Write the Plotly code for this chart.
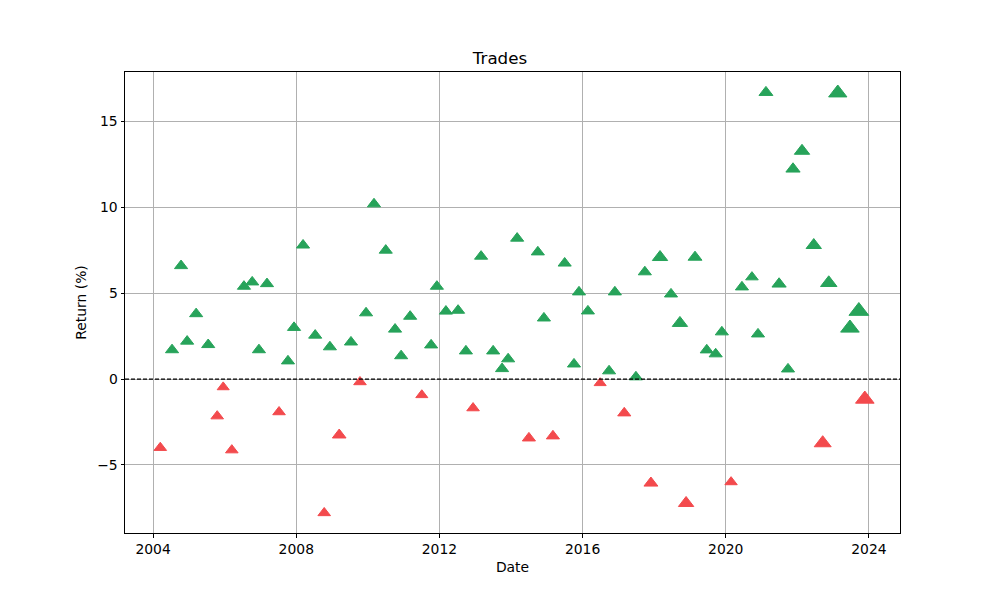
import plotly.graph_objects as go

# Winning trades
win_dates = [
    "2004-07-12", "2004-10-12", "2004-12-13", "2005-03-15", "2005-07-16",
    "2006-07-16", "2006-10-08", "2006-12-16", "2007-03-08", "2007-10-08",
    "2007-12-09", "2008-03-10", "2008-07-12", "2008-12-09", "2009-07-12",
    "2009-12-13", "2010-03-04", "2010-07-02", "2010-10-05", "2010-12-06",
    "2011-03-08", "2011-10-08", "2011-12-06", "2012-03-07", "2012-07-09",
    "2012-09-27", "2013-03-01", "2013-07-02", "2013-10-01", "2013-12-02",
    "2014-03-04", "2014-10-01", "2014-12-02", "2015-07-02", "2015-10-05",
    "2015-11-25", "2016-02-24", "2016-09-27", "2016-11-25", "2017-06-28",
    "2017-09-27", "2018-03-01", "2018-06-21", "2018-09-20", "2019-02-21",
    "2019-06-21", "2019-09-20", "2019-11-22", "2020-06-14", "2020-09-24",
    "2020-11-25", "2021-02-14", "2021-06-28", "2021-09-27", "2021-11-17",
    "2022-02-17", "2022-06-17", "2022-11-17", "2023-02-17", "2023-06-21",
    "2023-09-20",
]
win_returns = [
    1.7, 6.6, 2.2, 3.8, 2.0,
    5.4, 5.65, 1.7, 5.55, 1.05,
    3.0, 7.8, 2.55, 1.87, 2.15,
    3.85, 10.2, 7.5, 2.9, 1.35,
    3.65, 1.98, 5.4, 3.95, 4.0,
    1.63, 7.15, 1.63, 0.6, 1.17,
    8.2, 7.4, 3.55, 6.75, 0.87,
    5.07, 3.96, 0.47, 5.07, 0.12,
    6.24, 7.1, 4.95, 3.26, 7.1,
    1.69, 1.46, 2.74, 5.36, 5.94,
    2.62, 16.7, 5.54, 0.58, 12.24,
    13.29, 7.8, 5.6, 16.67, 2.97,
    3.96,
]
win_sizes = [
    12, 12, 12, 12, 12,
    12, 12, 12, 12, 12,
    12, 12, 12, 12, 12,
    12, 12, 12, 12, 12,
    12, 12, 12, 12, 12,
    12, 12, 12, 12, 12,
    12, 12, 12, 12, 12,
    12, 12, 12, 12, 12,
    12, 14, 12, 14, 12.7,
    12, 12, 12, 12, 11.5,
    12, 12.7, 13, 12, 13,
    14, 14, 15, 16.7, 17,
    18,
]

# Losing trades
loss_dates = [
    "2004-03-14", "2005-10-16", "2005-12-16", "2006-03-14", "2007-07-09",
    "2008-10-12", "2009-03-14", "2009-10-12", "2011-07-05", "2012-12-09",
    "2014-07-02", "2015-03-04", "2016-06-28", "2017-03-01", "2017-11-28",
    "2018-11-22", "2020-02-24", "2022-09-16", "2023-11-20",
]
loss_returns = [
    -4.0, -2.16, -0.47, -4.14, -1.92,
    -7.8, -3.26, -0.17, -0.93, -1.69,
    -3.44, -3.32, -0.23, -1.98, -6.06,
    -7.23, -6.0, -3.73, -1.17,
]
loss_sizes = [
    11.5, 11.5, 11, 11.5, 11.5,
    11.5, 12.5, 11.5, 11, 11.5,
    12, 12, 11, 12, 12.7,
    14, 11.3, 15.5, 17,
]

x_ticks = ["2004-01-01", "2008-01-01", "2012-01-01", "2016-01-01", "2020-01-01", "2024-01-01"]
x_tick_labels = ["2004", "2008", "2012", "2016", "2020", "2024"]
y_ticks = [-5, 0, 5, 10, 15]

GREEN = "#27a35a"
RED = "#f34a4d"
SCALE = 0.95  # matplotlib marker width (px) -> plotly triangle size

fig = go.Figure()
fig.add_trace(go.Scatter(
    x=win_dates, y=win_returns, mode="markers", name="Win",
    marker=dict(symbol="triangle-up", color=GREEN, opacity=1,
                size=[s * SCALE for s in win_sizes], line=dict(width=1, color=GREEN)),
))
fig.add_trace(go.Scatter(
    x=loss_dates, y=loss_returns, mode="markers", name="Loss",
    marker=dict(symbol="triangle-up", color=RED, opacity=1,
                size=[s * SCALE for s in loss_sizes], line=dict(width=1, color=RED)),
))
fig.add_hline(y=0, line=dict(color="black", width=1.2, dash="4px,2px"), layer="above")

font = "DejaVu Sans, sans-serif"
fig.update_layout(
    width=1000, height=600,
    margin=dict(l=125, r=100, t=72, b=67),
    paper_bgcolor="white", plot_bgcolor="white",
    showlegend=False,
    font=dict(family=font, size=13.9, color="black"),
    title=dict(text="Trades", x=0.5, xanchor="center", y=1 - 58 / 600, yanchor="middle",
               font=dict(family=font, size=16.7, color="black")),
)
fig.update_xaxes(
    type="date", range=["2003-03-20", "2024-11-13"],
    tickvals=x_ticks, ticktext=x_tick_labels,
    showgrid=True, gridcolor="#b0b0b0", gridwidth=0.8,
    showline=True, linecolor="black", linewidth=1, mirror=True,
    ticks="outside", ticklen=3.5, tickwidth=0.8, tickcolor="black",
    zeroline=False,
    title=dict(text="Date", font=dict(family=font, size=13.9), standoff=6),
)
fig.update_yaxes(
    range=[-8.97, 17.89], tickvals=y_ticks,
    showgrid=True, gridcolor="#b0b0b0", gridwidth=0.8,
    showline=True, linecolor="black", linewidth=1, mirror=True,
    ticks="outside", ticklen=3.5, tickwidth=0.8, tickcolor="black",
    zeroline=False,
    title=dict(text="Return (%)", font=dict(family=font, size=13.9), standoff=7),
)

fig.write_html("out.html")
